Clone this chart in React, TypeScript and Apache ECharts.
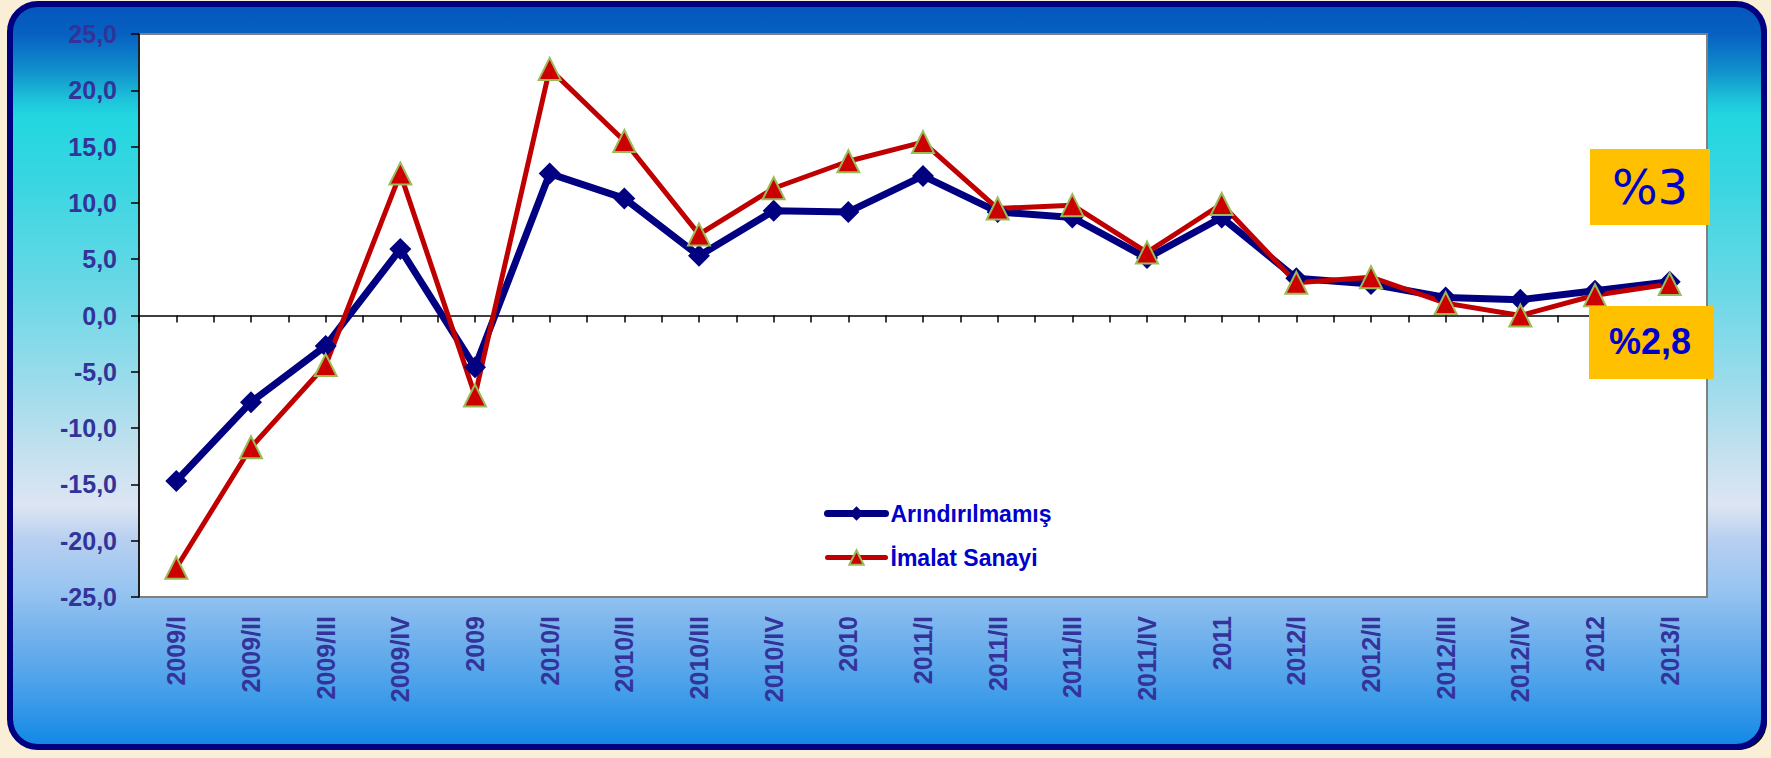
import React, { useEffect, useRef } from "react";
import * as echarts from "echarts";

const categories = [
  "2009/I", "2009/II", "2009/III", "2009/IV", "2009",
  "2010/I", "2010/II", "2010/III", "2010/IV", "2010",
  "2011/I", "2011/II", "2011/III", "2011/IV", "2011",
  "2012/I", "2012/II", "2012/III", "2012/IV", "2012",
  "2013/I",
];

const arindirilmamis = [
  -14.7, -7.7, -2.7, 5.9, -4.6,
  12.6, 10.4, 5.3, 9.3, 9.2,
  12.4, 9.2, 8.7, 5.1, 8.7,
  3.3, 2.8, 1.6, 1.4, 2.2,
  3.0,
];

const imalatSanayi = [
  -22.4, -11.7, -4.4, 12.6, -7.1,
  21.9, 15.5, 7.2, 11.3, 13.7,
  15.4, 9.5, 9.8, 5.6, 9.9,
  2.9, 3.4, 1.1, 0.0, 1.8,
  2.8,
];

const seriesNames = ["Arındırılmamış", "İmalat Sanayi"];
const yTicks = { min: -25, max: 25, interval: 5 };
const boxLabels = ["%3", "%2,8"];

export default function App() {
  const ref = useRef<HTMLDivElement>(null);

  useEffect(() => {
    document.body.style.margin = "0";
    const chart = echarts.init(ref.current!, null, { renderer: "svg" });
    const labelColor = "#333399";
    const font = "Liberation Sans";
    chart.setOption({
      animation: false,
      backgroundColor: "#FAEFD6",
      graphic: [
        {
          type: "rect",
          z: -20,
          shape: { x: 13, y: 7, width: 1754, height: 743, r: 28 },
          style: { fill: "#000000" },
          silent: true,
        },
        {
          type: "rect",
          z: -19,
          shape: { x: 10, y: 4, width: 1754, height: 743, r: 28 },
          style: {
            fill: new echarts.graphic.LinearGradient(0, 0, 0, 1, [
              { offset: 0, color: "#0456BC" },
              { offset: 0.04, color: "#0660C2" },
              { offset: 0.09, color: "#1190CC" },
              { offset: 0.13, color: "#1EC4DA" },
              { offset: 0.15, color: "#22D6E0" },
              { offset: 0.25, color: "#3CD6E2" },
              { offset: 0.39, color: "#6CD8E6" },
              { offset: 0.52, color: "#A0DCEC" },
              { offset: 0.59, color: "#BEE0EE" },
              { offset: 0.675, color: "#DDE5F3" },
              { offset: 0.72, color: "#B8D0F0" },
              { offset: 0.79, color: "#96C4F0" },
              { offset: 0.855, color: "#70B0EC" },
              { offset: 0.92, color: "#48A0EA" },
              { offset: 1, color: "#1088E4" },
            ]),
            stroke: "#000080",
            lineWidth: 6,
          },
          silent: true,
        },
        {
          type: "rect",
          z: 100,
          shape: { x: 1590, y: 149, width: 120, height: 76 },
          style: { fill: "#FFC000" },
        },
        {
          type: "text",
          z: 101,
          x: 1650,
          y: 187,
          style: {
            text: boxLabels[0],
            fill: "#0000CC",
            font: "normal 48px 'DejaVu Sans'",
            align: "center",
            verticalAlign: "middle",
          },
        },
        {
          type: "rect",
          z: 100,
          shape: { x: 1589, y: 306, width: 125, height: 73 },
          style: { fill: "#FFC000" },
        },
        {
          type: "text",
          z: 101,
          x: 1650,
          y: 341,
          style: {
            text: boxLabels[1],
            fill: "#0000CC",
            font: "bold 36px 'Liberation Sans'",
            align: "center",
            verticalAlign: "middle",
          },
        },
      ],
      grid: {
        left: 139,
        right: 64,
        top: 34,
        bottom: 161,
        show: true,
        backgroundColor: "#FFFFFF",
        borderColor: "#808080",
        borderWidth: 2,
      },
      legend: {
        orient: "vertical",
        left: 819,
        top: 497,
        itemWidth: 58,
        itemHeight: 18,
        itemGap: 21,
        data: seriesNames,
        lineStyle: { width: "inherit", cap: "round" },
        textStyle: {
          color: "#0000CC",
          fontSize: 23,
          fontWeight: "bold",
          fontFamily: font,
        },
      },
      xAxis: [
        {
          type: "category",
          data: categories,
          boundaryGap: true,
          position: "bottom",
          axisLine: { show: false, onZero: false },
          axisTick: { show: false },
          axisLabel: {
            rotate: 90,
            margin: 19,
            color: labelColor,
            fontSize: 25,
            fontWeight: "bold",
            fontFamily: font,
            interval: 0,
          },
          splitLine: { show: false },
        },
        {
          type: "value",
          position: "top",
          min: 0,
          max: categories.length * 2,
          interval: 1,
          axisLine: { show: true, onZero: true, lineStyle: { color: "#000000", width: 1.5 } },
          axisTick: { show: true, inside: true, length: 7, lineStyle: { color: "#000000", width: 1.5 } },
          axisLabel: { show: false },
          splitLine: { show: false },
        },
      ],
      yAxis: {
        type: "value",
        min: yTicks.min,
        max: yTicks.max,
        interval: yTicks.interval,
        axisLine: { show: true, lineStyle: { color: "#000000", width: 1.5 } },
        axisTick: { show: true, length: 8, lineStyle: { color: "#000000", width: 1.5 } },
        axisLabel: {
          margin: 22,
          color: labelColor,
          fontSize: 25,
          fontWeight: "bold",
          fontFamily: font,
          formatter: (v: number) => v.toFixed(1).replace(".", ","),
        },
        splitLine: { show: false },
      },
      series: [
        {
          name: seriesNames[0],
          type: "line",
          xAxisIndex: 0,
          data: arindirilmamis,
          symbol: "diamond",
          symbolSize: 22,
          lineStyle: { color: "#000080", width: 7 },
          itemStyle: { color: "#000080" },
        },
        {
          name: seriesNames[1],
          type: "line",
          xAxisIndex: 0,
          data: imalatSanayi,
          symbol: "triangle",
          symbolSize: 22,
          lineStyle: { color: "#C00000", width: 5 },
          itemStyle: { color: "#CC0000", borderColor: "#9BBB59", borderWidth: 2 },
        },
      ],
    });
    return () => chart.dispose();
  }, []);

  return (
    <div
      ref={ref}
      style={{ position: "absolute", left: 0, top: 0, width: 1771, height: 758 }}
    />
  );
}
